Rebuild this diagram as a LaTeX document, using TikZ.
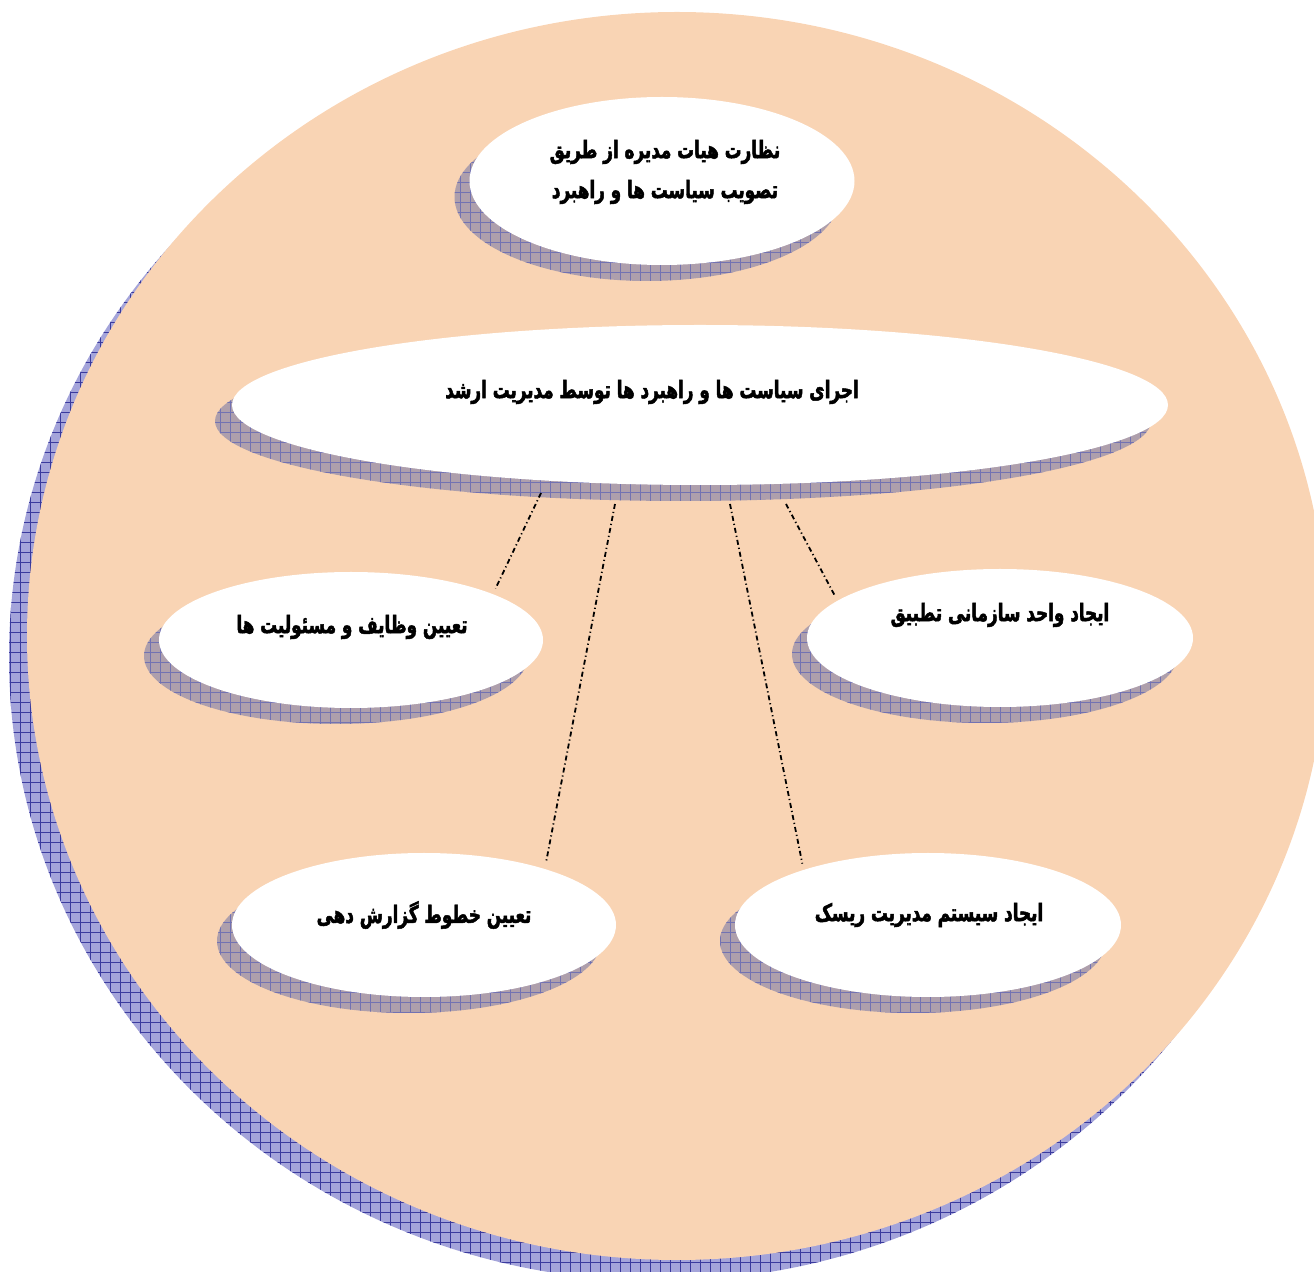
\documentclass[tikz,border=0pt]{standalone}
\usepackage{fontspec}
\usetikzlibrary{shapes.geometric,patterns.meta}
\TeXXeTstate=1
\newfontfamily\arabicfont[Script=Arabic, UprightFont={* Bold}, FakeStretch=0.7, FakeBold=2]{DejaVu Sans}
\definecolor{peach}{HTML}{F9D4B4}
\definecolor{bigshbase}{HTML}{A4A4DA}
\definecolor{bigshgrid}{HTML}{3A3A9E}
\definecolor{eshbase}{HTML}{AE9FAC}
\definecolor{eshgrid}{HTML}{7272B2}
\tikzset{
  bubble/.style={ellipse, fill=white, inner sep=0pt, draw=none},
  eshadow/.style={fill=eshbase},
  egrid/.style={pattern={Hatch[angle=0,distance=5pt,line width=0.25pt]}, pattern color=eshgrid},
  bshadow/.style={fill=bigshbase},
  bgrid/.style={pattern={Hatch[angle=0,distance=5pt,line width=0.4pt]}, pattern color=bigshgrid},
  lbl/.style={font=\arabicfont\fontsize{12pt}{20pt}\selectfont, inner sep=0pt, align=center},
  conn/.style={line width=0.9pt, dash pattern=on 2.5pt off 1.5pt on 0.6pt off 1.5pt, shorten >=3pt},
}
\begin{document}
\begin{tikzpicture}[x=0.5pt,y=-0.5pt]
\useasboundingbox (0,0) rectangle (1314,1272);
\begin{scope}
  \clip (0,0) rectangle (1314,1272);
  \fill[bshadow] (659,657) ellipse [x radius=325pt, y radius=312pt];
  \path[bgrid] (659,657) ellipse [x radius=325pt, y radius=312pt];
  \fill[peach] (677,636) ellipse [x radius=325pt, y radius=312pt];
\end{scope}
% shadows of the bubbles
\fill[eshadow] (647,197) ellipse [x radius=96.25pt, y radius=42pt];
\path[egrid] (647,197) ellipse [x radius=96.25pt, y radius=42pt];
\fill[eshadow] (683,421) ellipse [x radius=234pt, y radius=40pt];
\path[egrid] (683,421) ellipse [x radius=234pt, y radius=40pt];
\fill[eshadow] (336,656) ellipse [x radius=96pt, y radius=34pt];
\path[egrid] (336,656) ellipse [x radius=96pt, y radius=34pt];
\fill[eshadow] (985,654) ellipse [x radius=96.5pt, y radius=34.5pt];
\path[egrid] (985,654) ellipse [x radius=96.5pt, y radius=34.5pt];
\fill[eshadow] (409,941) ellipse [x radius=96pt, y radius=36pt];
\path[egrid] (409,941) ellipse [x radius=96pt, y radius=36pt];
\fill[eshadow] (913,941) ellipse [x radius=96.5pt, y radius=36pt];
\path[egrid] (913,941) ellipse [x radius=96.5pt, y radius=36pt];
% bubbles
\node[bubble, minimum width=192.5pt, minimum height=84pt] (top) at (662,181) {};
\node[bubble, minimum width=468pt, minimum height=80pt] (mid) at (700,405) {};
\node[bubble, minimum width=192pt, minimum height=68pt] (lm) at (351,640) {};
\node[bubble, minimum width=193pt, minimum height=69pt] (rm) at (1000,638) {};
\node[bubble, minimum width=192pt, minimum height=72pt] (bl) at (424,925) {};
\node[bubble, minimum width=193pt, minimum height=72pt] (br) at (928,925) {};
% texts
\node[lbl] (ttop) at (665,172) {\beginR نظارت هیات مدیره از طریق\endR\\\beginR تصویب سیاست ها و راهبرد\endR};
\node[lbl] (tmid) at (652,392) {\beginR اجرای سیاست ها و راهبرد ها توسط مدیریت ارشد\endR};
\node[lbl] (tlm) at (352,627) {\beginR تعیین وظایف و مسئولیت ها\endR};
\node[lbl] (trm) at (1000,615) {\beginR ایجاد واحد سازمانی تطبیق\endR};
\node[lbl] (tbl) at (424,915) {\beginR تعیین خطوط گزارش دهی\endR};
\node[lbl] (tbr) at (929,915) {\beginR ایجاد سیستم مدیریت ریسک\endR};
% connectors
\coordinate (s1) at (541,493);
\coordinate (s2) at (615,504);
\coordinate (s3) at (730,504);
\coordinate (s4) at (786,504);
\draw[conn] (s1) -- (lm.18.5);
\draw[conn] (s2) -- (bl.25.8);
\draw[conn] (s3) -- (br.156.7);
\draw[conn] (s4) -- (rm.167.7);
\end{tikzpicture}
\end{document}
